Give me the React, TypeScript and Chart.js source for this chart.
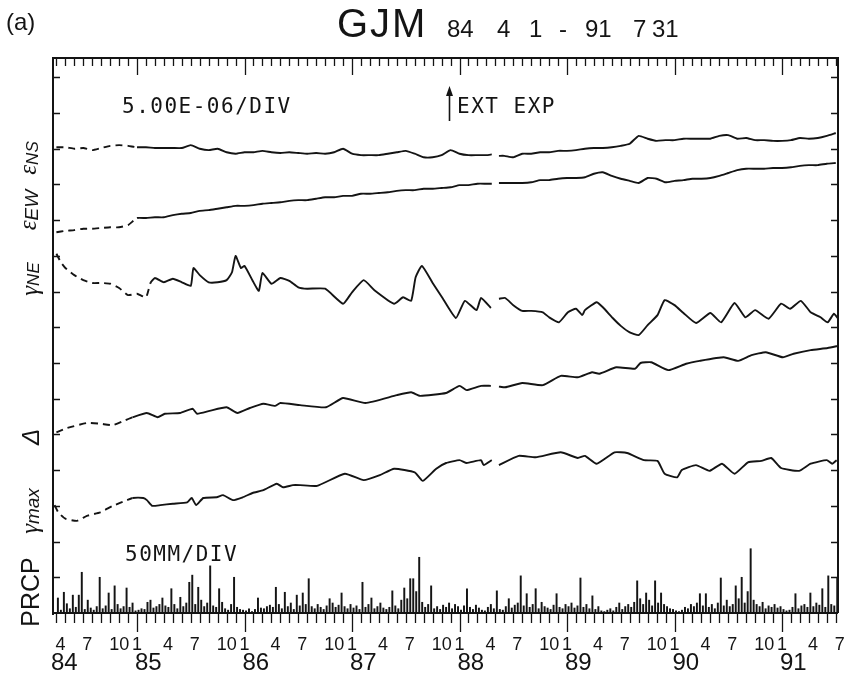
import React, { useEffect, useRef } from 'react';
import Chart from 'chart.js/auto';

// x unit: months since 1984-04-01 (0 = Apr 84). y unit: 1E-06 strain (5 units = 1 division)
const X_MIN = -0.38;
const X_MAX = 87.25;
const Y_MAX = 77.7;
const DIV = 5; // 5.00E-06 / DIV
const PRCP_PER_DIV = 50; // 50 MM / DIV

const monthTicks = Array.from({ length: 88 }, (_, i) => i);
const quarterLabels = ['4', '7', '10', '1'];
const yearLabels = ['84', '85', '86', '87', '88', '89', '90', '91'];
const yearLabelMonths = [X_MIN, 9, 21, 33, 45, 57, 69, 81];

// strain components: monthly, with a short data gap in spring 1988
const strainMonths = [
  ...Array.from({ length: 49 }, (_, i) => i),
  48.6, 48.9, 49.4,
  ...Array.from({ length: 38 }, (_, i) => i + 50),
];
const eNS = [
  65.2, 65.2, 65.0, 65.1, 64.8, 65.1, 65.4, 65.5, 65.4, 65.2,
  65.2, 65.1, 65.1, 65.1, 65.1, 65.5, 65.0, 64.8, 65.0, 64.5,
  64.3, 64.5, 64.5, 64.7, 64.5, 64.4, 64.5, 64.4, 64.3, 64.4,
  64.3, 64.5, 65.0, 64.3, 64.1, 64.1, 64.1, 64.3, 64.5, 64.7,
  64.3, 63.8, 63.8, 64.1, 64.8, 64.3, 64.1, 64.1, 64.1,
  64.2, null, 64.0,
  64.0, 63.8, 64.3, 64.3, 64.5, 64.5, 64.7, 64.7, 64.8, 65.0,
  65.1, 65.1, 65.2, 65.4, 65.7, 66.8, 66.4, 66.1, 66.2, 66.2,
  66.4, 66.4, 66.4, 66.4, 66.8, 66.9, 66.4, 66.5, 66.2, 66.2,
  66.1, 66.1, 66.2, 66.5, 66.4, 66.5, 66.8, 67.2,
];
const eEW = [
  53.3, 53.5, 53.6, 53.8, 53.8, 53.9, 54.0, 54.0, 54.3, 55.3,
  55.3, 55.4, 55.4, 55.7, 55.9, 56.0, 56.3, 56.4, 56.6, 56.8,
  57.0, 57.0, 57.1, 57.3, 57.4, 57.5, 57.7, 57.8, 57.8, 58.0,
  58.2, 58.2, 58.4, 58.4, 58.7, 58.7, 58.8, 58.9, 59.1, 59.2,
  59.2, 59.4, 59.4, 59.5, 59.6, 59.9, 59.9, 60.1, 60.1,
  60.1, null, 60.2,
  60.2, 60.2, 60.2, 60.3, 60.6, 60.6, 60.8, 60.9, 60.9, 61.0,
  61.5, 61.7, 61.2, 60.8, 60.5, 60.2, 60.9, 60.8, 60.3, 60.5,
  60.6, 60.8, 60.8, 60.9, 61.2, 61.6, 62.0, 62.2, 62.2, 62.2,
  62.3, 62.3, 62.4, 62.6, 62.7, 62.7, 62.9, 63.0,
];

// irregularly sampled series
const gNEMonths = [
  0, 0.5, 1, 2, 3, 4, 5, 6, 7, 8, 9, 10, 10.5, 11, 12, 13, 14, 15, 15.3, 16,
  17, 18, 19, 19.6, 20, 20.6, 21, 22, 22.6, 23, 24, 25, 26, 27, 28, 30, 32, 33, 34.3, 35.5,
  37.7, 38.7, 39.6, 40.1, 40.8, 42, 43.1, 44.6, 45.6, 46.9, 47.4, 48.5, 48.9, 49.4, 50.1, 51, 52, 53, 54.3, 55, 56.1,
  57.1, 58, 58.7, 59, 60.3, 61, 62.1, 63, 64, 65, 66, 67.1, 67.9, 69, 70, 71.4, 73, 74.2, 75.7, 76.9,
  78, 79.5, 80.9, 81.9, 83.1, 84.2, 85.3, 86.1, 86.8, 87.2,
];
const gNE = [
  50.3, 49.1, 48.3, 47.3, 46.6, 46.2, 46.2, 46.1, 45.5, 44.5, 44.7, 44.2, 46.2, 46.9, 46.3, 46.8, 46.3, 45.8, 48.3, 47.3,
  46.3, 46.3, 46.6, 47.7, 50.0, 48.3, 48.6, 46.3, 45.1, 47.6, 46.1, 46.9, 46.5, 45.6, 45.4, 45.4, 43.3, 44.9, 46.6, 45.2,
  43.3, 44.2, 43.7, 47.0, 48.6, 46.2, 44.1, 41.3, 43.7, 42.4, 44.1, 42.7, null, 44.0, 44.1, 43.1, 42.3, 42.3, 42.1, 41.4, 40.7,
  42.1, 42.6, 41.7, 42.4, 43.5, 42.8, 41.3, 40.2, 39.3, 38.9, 40.3, 41.7, 43.8, 43.1, 42.0, 40.6, 42.0, 40.7, 43.4, 41.4,
  42.4, 41.2, 43.3, 42.6, 43.7, 42.1, 41.4, 40.7, 41.9, 41.3,
];
const deltaMonths = [
  0, 1.2, 3.4, 4.9, 6.3, 7.7, 8.5, 10.1, 11.3, 12.1, 13.8, 15.2, 15.7, 17.1, 19.0, 20.2, 21.6, 23.1, 24.4, 25.0,
  27.2, 30.1, 32.0, 34.5, 38.0, 39.6, 40.6, 43.5, 45.0, 45.8, 47.4, 48.5, 48.9, 49.4, 50.1, 52.0, 54.3, 56.3, 58.2, 59.8, 60.6,
  62.5, 64.6, 65.2, 66.4, 68.3, 70.3, 71.8, 74.5, 76.1, 77.6, 79.2, 81.1, 82.3, 84.2, 86.1, 87.3,
];
const delta = [
  25.3, 25.9, 26.6, 26.5, 26.3, 27.0, 27.4, 28.0, 27.4, 27.9, 28.0, 28.6, 27.9, 28.3, 28.8, 28.0, 28.7, 29.3, 29.0, 29.4,
  29.1, 28.8, 30.1, 29.4, 30.5, 30.9, 30.4, 30.8, 31.8, 31.2, 31.8, 31.8, null, 31.7, 31.6, 32.2, 31.9, 33.2, 33.0, 33.7, 33.5,
  34.4, 34.2, 35.0, 35.1, 34.0, 34.9, 35.3, 35.8, 35.3, 36.1, 36.5, 35.8, 36.3, 36.8, 37.1, 37.4,
];
const gMaxMonths = [
  -0.2, 0.2, 1.0, 2.3, 3.4, 4.9, 6.3, 7.9, 8.5, 9.7, 10.1, 10.7, 11.6, 13.0, 14.6, 15.1, 15.6, 16.4, 17.9, 18.6,
  19.7, 20.8, 21.9, 23.1, 24.6, 25.3, 26.4, 27.2, 29.1, 32.2, 34.3, 36.1, 37.7, 40.0, 40.9, 42.4, 43.5, 45.0, 45.8, 47.4,
  47.7, 48.6, 48.9, 49.4, 51.6, 53.5, 56.3, 58.2, 59.0, 60.3, 62.3, 63.7, 65.6, 67.1, 67.9, 69.3, 69.8, 71.4, 72.9, 74.3,
  75.7, 77.2, 78.7, 79.8, 80.9, 82.9, 84.2, 86.0, 86.6, 87.1,
];
const gMax = [
  15.1, 14.1, 13.2, 12.9, 13.6, 14.1, 15.0, 15.8, 16.1, 16.1, 15.8, 15.0, 15.1, 15.3, 15.5, 16.1, 15.1, 16.1, 16.2, 16.5,
  15.8, 16.2, 16.8, 17.2, 18.1, 17.6, 17.9, 17.9, 17.8, 19.5, 18.6, 19.3, 20.2, 19.7, 18.5, 20.2, 21.0, 21.4, 21.0, 21.4,
  20.7, 21.4, null, 20.7, 22.0, 21.8, 22.5, 21.7, 22.0, 20.9, 22.5, 22.4, 21.4, 21.3, 19.5, 19.0, 20.0, 20.7, 19.9, 20.9,
  19.5, 21.1, 21.3, 21.7, 20.3, 19.9, 20.9, 21.4, 20.9, 21.4,
];

// precipitation, mm per 10-day period (3 per month from Apr 84)
const prcpMm = [
  21, 4, 29, 13, 6, 25, 8, 25, 57, 5, 18, 7,
  4, 9, 50, 6, 10, 28, 5, 38, 12, 6, 9, 35,
  8, 14, 3, 4, 6, 5, 15, 18, 7, 9, 12, 21,
  10, 8, 34, 12, 6, 22, 9, 14, 43, 53, 12, 36,
  18, 9, 14, 66, 10, 8, 34, 15, 6, 4, 12, 50,
  8, 5, 4, 3, 6, 2, 5, 21, 7, 6, 9, 11,
  8, 36, 12, 6, 29, 9, 14, 5, 25, 10, 28, 12,
  48, 9, 6, 12, 8, 5, 10, 20, 14, 8, 11, 28,
  9, 6, 12, 7, 10, 5, 43, 8, 12, 21, 6, 9,
  14, 7, 5, 8, 31, 10, 6, 18, 35, 20, 48, 48,
  30, 78, 15, 8, 12, 38, 6, 9, 5, 11, 8, 14,
  6, 12, 9, 4, 10, 34, 8, 5, 11, 7, 4, 3,
  8, 12, 6, 31, 5, 4, 9, 20, 7, 11, 14, 52,
  10, 27, 8, 12, 34, 6, 15, 9, 7, 5, 11, 27,
  8, 6, 12, 9, 14, 7, 10, 49, 8, 12, 6, 24,
  5, 9, 3, 2, 4, 6, 3, 8, 14, 5, 9, 12,
  8, 15, 45, 20, 12, 28, 18, 10, 45, 14, 28, 12,
  9, 6, 5, 3, 2, 4, 8, 6, 12, 9, 14, 27,
  10, 27, 8, 12, 6, 14, 49, 10, 18, 9, 12, 38,
  20, 50, 14, 30, 90, 18, 12, 9, 15, 6, 10, 8,
  12, 7, 9, 5, 3, 4, 8, 27, 6, 10, 12, 8,
  28, 9, 14, 11, 34, 8, 52, 12, 10, 50,
];

const INK = '#141414';

function lineSet(label: string, xs: number[], ys: (number | null)[], dashEnd: number) {
  return {
    type: 'line' as const,
    label,
    data: xs.map((x, i) => ({ x, y: ys[i] })),
    borderColor: INK,
    borderWidth: 1.9,
    pointRadius: 0,
    tension: 0.15,
    spanGaps: false,
    yAxisID: 'y',
    segment: {
      borderDash: (ctx: any) => (ctx.p1.parsed.x <= dashEnd ? [7, 5] : undefined),
    },
  };
}

function drawRot(ctx: CanvasRenderingContext2D, parts: { t: string; f: string; dy: number }[], cx: number, cy: number) {
  ctx.save();
  ctx.translate(cx, cy);
  ctx.rotate(-Math.PI / 2);
  ctx.textBaseline = 'middle';
  ctx.textAlign = 'left';
  let w = 0;
  parts.forEach((p) => {
    ctx.font = p.f;
    w += ctx.measureText(p.t).width;
  });
  let u = -w / 2;
  parts.forEach((p) => {
    ctx.font = p.f;
    ctx.fillText(p.t, u, p.dy);
    u += ctx.measureText(p.t).width;
  });
  ctx.restore();
}

const framePlugin = {
  id: 'frame',
  afterDatasetsDraw(chart: any) {
    const { ctx, chartArea: a, scales } = chart;
    const xs = scales.x;
    const ys = scales.y;
    ctx.save();
    ctx.strokeStyle = INK;
    ctx.fillStyle = INK;
    ctx.lineWidth = 2;
    ctx.beginPath();
    ctx.moveTo(a.left, a.bottom + 2);
    ctx.lineTo(a.left, a.top);
    ctx.lineTo(a.right, a.top);
    ctx.lineTo(a.right, a.bottom);
    ctx.moveTo(a.left, a.bottom);
    ctx.lineTo(a.right, a.bottom);
    ctx.stroke();

    // month ticks top and bottom
    ctx.lineWidth = 1.3;
    ctx.beginPath();
    monthTicks.forEach((m) => {
      const px = Math.round(xs.getPixelForValue(m)) + 0.5;
      const isYear = (m - 9) % 12 === 0;
      ctx.moveTo(px, a.top);
      ctx.lineTo(px, a.top + (isYear ? 17 : 8));
      ctx.moveTo(px, a.bottom);
      ctx.lineTo(px, a.bottom + (isYear ? 19 : 10));
    });
    // division ticks left and right
    for (let v = DIV; v < Y_MAX; v += DIV) {
      const py = Math.round(ys.getPixelForValue(v)) + 0.5;
      ctx.moveTo(a.left, py);
      ctx.lineTo(a.left + 7, py);
      ctx.moveTo(a.right, py);
      ctx.lineTo(a.right - 7, py);
    }
    ctx.stroke();

    // x tick labels
    ctx.textBaseline = 'alphabetic';
    ctx.font = '18px "Liberation Sans"';
    monthTicks.forEach((m) => {
      if (m % 3 !== 0) return;
      const lab = quarterLabels[(m / 3) % 4];
      const px = xs.getPixelForValue(m);
      if (lab === '1') {
        ctx.textAlign = 'center';
        ctx.fillText(lab, px, 650);
      } else {
        ctx.textAlign = 'left';
        ctx.fillText(lab, px - 1, 650);
      }
    });
    ctx.font = '24px "Liberation Sans"';
    ctx.textAlign = 'left';
    yearLabels.forEach((t, i) => {
      ctx.fillText(t, xs.getPixelForValue(yearLabelMonths[i]) - 2, 670);
    });

    // title
    ctx.font = '24px "Liberation Sans"';
    ctx.fillText('(a)', 6, 30);
    ctx.font = '40px "Liberation Sans"';
    (ctx as any).letterSpacing = '2px';
    ctx.fillText('GJM', 337, 37);
    (ctx as any).letterSpacing = '0px';
    ctx.font = '24px "Liberation Sans"';
    const tParts = ['84', '4', '1', '-', '91', '7', '31'];
    const tX = [447, 497, 529, 559, 585, 633, 652];
    tParts.forEach((t, i) => ctx.fillText(t, tX[i], 37));

    // annotations in plot
    ctx.font = '21px "DejaVu Sans Mono"';
    (ctx as any).letterSpacing = '1.5px';
    ctx.fillText('5.00E-06/DIV', 122, 113);
    ctx.fillText('EXT EXP', 457, 113);
    ctx.fillText('50MM/DIV', 125, 561);
    (ctx as any).letterSpacing = '0px';
    // arrow
    ctx.lineWidth = 1.6;
    ctx.beginPath();
    ctx.moveTo(449.5, 121);
    ctx.lineTo(449.5, 92);
    ctx.stroke();
    ctx.beginPath();
    ctx.moveTo(449.5, 86);
    ctx.lineTo(446, 96);
    ctx.lineTo(453, 96);
    ctx.closePath();
    ctx.fill();

    // series labels (rotated)
    const gk = 'italic 25px "Liberation Serif"';
    const sub = 'italic 17px "Liberation Sans"';
    drawRot(ctx, [{ t: 'ε', f: gk, dy: 0 }, { t: 'NS', f: sub, dy: 4 }], 29, 158);
    drawRot(ctx, [{ t: 'ε', f: gk, dy: 0 }, { t: 'EW', f: 'italic 19px "Liberation Sans"', dy: 4 }], 29, 210);
    drawRot(ctx, [{ t: 'γ', f: gk, dy: 0 }, { t: 'NE', f: sub, dy: 3 }], 31, 279);
    drawRot(ctx, [{ t: 'Δ', f: 'italic 24px "Liberation Sans"', dy: 0 }], 32, 437);
    drawRot(ctx, [{ t: 'γ', f: gk, dy: 0 }, { t: 'max', f: 'italic 19px "Liberation Sans"', dy: 3 }], 31, 511);
    drawRot(ctx, [{ t: 'PRCP', f: '25px "Liberation Sans"', dy: 0 }], 32, 592);
    ctx.restore();
  },
};

export default function App() {
  const ref = useRef<HTMLCanvasElement | null>(null);
  useEffect(() => {
    if (!ref.current) return;
    const chart = new Chart(ref.current, {
      type: 'line',
      data: {
        datasets: [
          lineSet('εNS', strainMonths, eNS, 9),
          lineSet('εEW', strainMonths, eEW, 9),
          lineSet('γNE', gNEMonths, gNE, 10.5),
          lineSet('Δ', deltaMonths, delta, 9),
          lineSet('γmax', gMaxMonths, gMax, 9),
          {
            type: 'bar' as const,
            label: 'PRCP',
            data: prcpMm.map((v, k) => ({ x: k / 3 + 1 / 6, y: v })),
            yAxisID: 'yp',
            backgroundColor: INK,
            borderWidth: 0,
            barThickness: 1.3,
            grouped: false,
          } as any,
        ],
      },
      options: {
        animation: false,
        responsive: true,
        maintainAspectRatio: false,
        events: [],
        layout: { padding: { left: 53, right: 7, top: 58, bottom: 62 } },
        plugins: { legend: { display: false }, tooltip: { enabled: false } },
        scales: {
          x: { type: 'linear', min: X_MIN, max: X_MAX, display: false, offset: false },
          y: { type: 'linear', min: 0, max: Y_MAX, display: false },
          yp: { type: 'linear', min: 0, max: (Y_MAX / DIV) * PRCP_PER_DIV, display: false },
        },
      } as any,
      plugins: [framePlugin],
    });
    return () => chart.destroy();
  }, []);
  return (
    <div style={{ position: 'absolute', left: 0, top: 0, width: 845, height: 675, background: '#fff' }}>
      <canvas ref={ref} />
    </div>
  );
}
